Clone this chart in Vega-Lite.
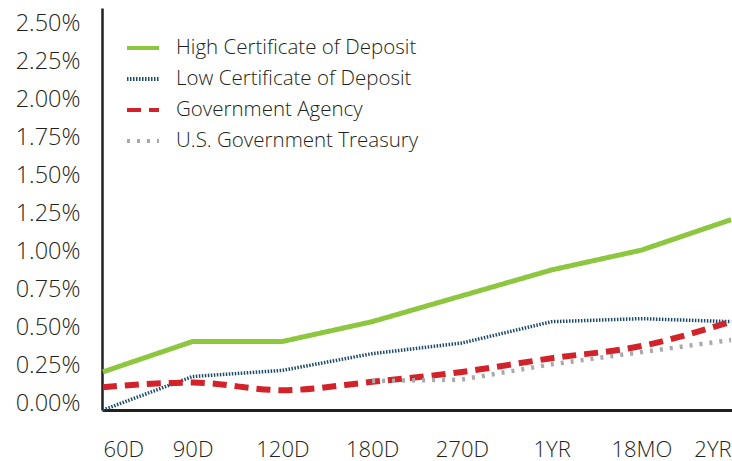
{
  "$schema": "https://vega.github.io/schema/vega-lite/v6.json",
  "width": 630,
  "height": 402,
  "autosize": {"type": "none"},
  "padding": {"left": 102, "top": 8, "right": 0, "bottom": 51},
  "background": "white",
  "config": {
    "view": {"stroke": null},
    "font": "Open Sans",
    "legend": {"labelFont": "Open Sans", "labelFontSize": 20.5, "labelFontWeight": 300, "labelColor": "#231f20", "labelLimit": 0}
  },
  "data": {
    "values": [
      {"series": "High Certificate of Deposit", "term": "60D", "value": 0.21},
      {"series": "High Certificate of Deposit", "term": "90D", "value": 0.41},
      {"series": "High Certificate of Deposit", "term": "120D", "value": 0.41},
      {"series": "High Certificate of Deposit", "term": "180D", "value": 0.54},
      {"series": "High Certificate of Deposit", "term": "270D", "value": 0.71},
      {"series": "High Certificate of Deposit", "term": "1YR", "value": 0.88},
      {"series": "High Certificate of Deposit", "term": "18MO", "value": 1.01},
      {"series": "High Certificate of Deposit", "term": "2YR", "value": 1.21},
      {"series": "Low Certificate of Deposit", "term": "60D", "value": -0.04},
      {"series": "Low Certificate of Deposit", "term": "90D", "value": 0.18},
      {"series": "Low Certificate of Deposit", "term": "120D", "value": 0.22},
      {"series": "Low Certificate of Deposit", "term": "180D", "value": 0.33},
      {"series": "Low Certificate of Deposit", "term": "270D", "value": 0.40},
      {"series": "Low Certificate of Deposit", "term": "1YR", "value": 0.54},
      {"series": "Low Certificate of Deposit", "term": "18MO", "value": 0.56},
      {"series": "Low Certificate of Deposit", "term": "2YR", "value": 0.54},
      {"series": "Government Agency", "term": "60D", "value": 0.11},
      {"series": "Government Agency", "term": "90D", "value": 0.14},
      {"series": "Government Agency", "term": "120D", "value": 0.09},
      {"series": "Government Agency", "term": "180D", "value": 0.145},
      {"series": "Government Agency", "term": "270D", "value": 0.21},
      {"series": "Government Agency", "term": "1YR", "value": 0.30},
      {"series": "Government Agency", "term": "18MO", "value": 0.38},
      {"series": "Government Agency", "term": "2YR", "value": 0.54},
      {"series": "U.S. Government Treasury", "term": "180D", "value": 0.15},
      {"series": "U.S. Government Treasury", "term": "270D", "value": 0.16},
      {"series": "U.S. Government Treasury", "term": "1YR", "value": 0.26},
      {"series": "U.S. Government Treasury", "term": "18MO", "value": 0.34},
      {"series": "U.S. Government Treasury", "term": "2YR", "value": 0.42}
    ]
  },
  "encoding": {
    "x": {
      "field": "term",
      "type": "ordinal",
      "sort": ["60D", "90D", "120D", "180D", "270D", "1YR", "18MO", "2YR"],
      "scale": {"type": "point", "padding": 0.01},
      "axis": {
        "title": null,
        "labelAngle": 0,
        "labelFlush": true,
        "ticks": false,
        "grid": false,
        "domainColor": "#231f20",
        "domainWidth": 3,
        "labelFont": "Open Sans",
        "labelFontSize": 22,
        "labelFontWeight": 300,
        "labelColor": "#231f20",
        "labelPadding": 29
      }
    },
    "y": {
      "field": "value",
      "type": "quantitative",
      "scale": {"domain": [-0.04, 2.6], "nice": false, "zero": false},
      "axis": {
        "title": null,
        "values": [0, 0.25, 0.5, 0.75, 1, 1.25, 1.5, 1.75, 2, 2.25, 2.5],
        "labelExpr": "format(datum.value, '.2f') + '%'",
        "ticks": false,
        "grid": false,
        "domainColor": "#231f20",
        "domainWidth": 2.5,
        "labelFont": "Open Sans",
        "labelFontSize": 23.5,
        "labelFontWeight": 300,
        "labelColor": "#231f20",
        "labelPadding": 22
      }
    },
    "color": {
      "field": "series",
      "type": "nominal",
      "scale": {
        "domain": ["High Certificate of Deposit", "Low Certificate of Deposit", "Government Agency", "U.S. Government Treasury"],
        "range": ["#8dc63f", "#1c4a6b", "#d2232a", "#a7a9ac"]
      },
      "legend": {
        "title": null,
        "orient": "none",
        "legendX": 23,
        "legendY": 22,
        "symbolType": "stroke",
        "symbolSize": 1024,
        "symbolStrokeWidth": 4,
        "rowPadding": 2,
        "labelOffset": 15,
        "padding": 0
      }
    },
    "strokeDash": {
      "field": "series",
      "type": "nominal",
      "scale": {
        "domain": ["High Certificate of Deposit", "Low Certificate of Deposit", "Government Agency", "U.S. Government Treasury"],
        "range": [[1, 0], [1.5, 1.5], [14, 8], [3, 7]]
      },
      "legend": {
        "title": null,
        "orient": "none",
        "legendX": 23,
        "legendY": 22,
        "symbolType": "stroke",
        "symbolSize": 1024,
        "symbolStrokeWidth": 4,
        "rowPadding": 2,
        "labelOffset": 15,
        "padding": 0
      }
    }
  },
  "layer": [
    {
      "transform": [{"filter": "datum.series === 'High Certificate of Deposit'"}],
      "mark": {"type": "line", "strokeWidth": 5}
    },
    {
      "transform": [{"filter": "datum.series === 'Low Certificate of Deposit'"}],
      "mark": {"type": "line", "strokeWidth": 3.5}
    },
    {
      "transform": [{"filter": "datum.series === 'Government Agency'"}],
      "mark": {"type": "line", "strokeWidth": 6, "interpolate": "monotone"}
    },
    {
      "transform": [{"filter": "datum.series === 'U.S. Government Treasury'"}],
      "mark": {"type": "line", "strokeWidth": 4.5}
    }
  ]
}
